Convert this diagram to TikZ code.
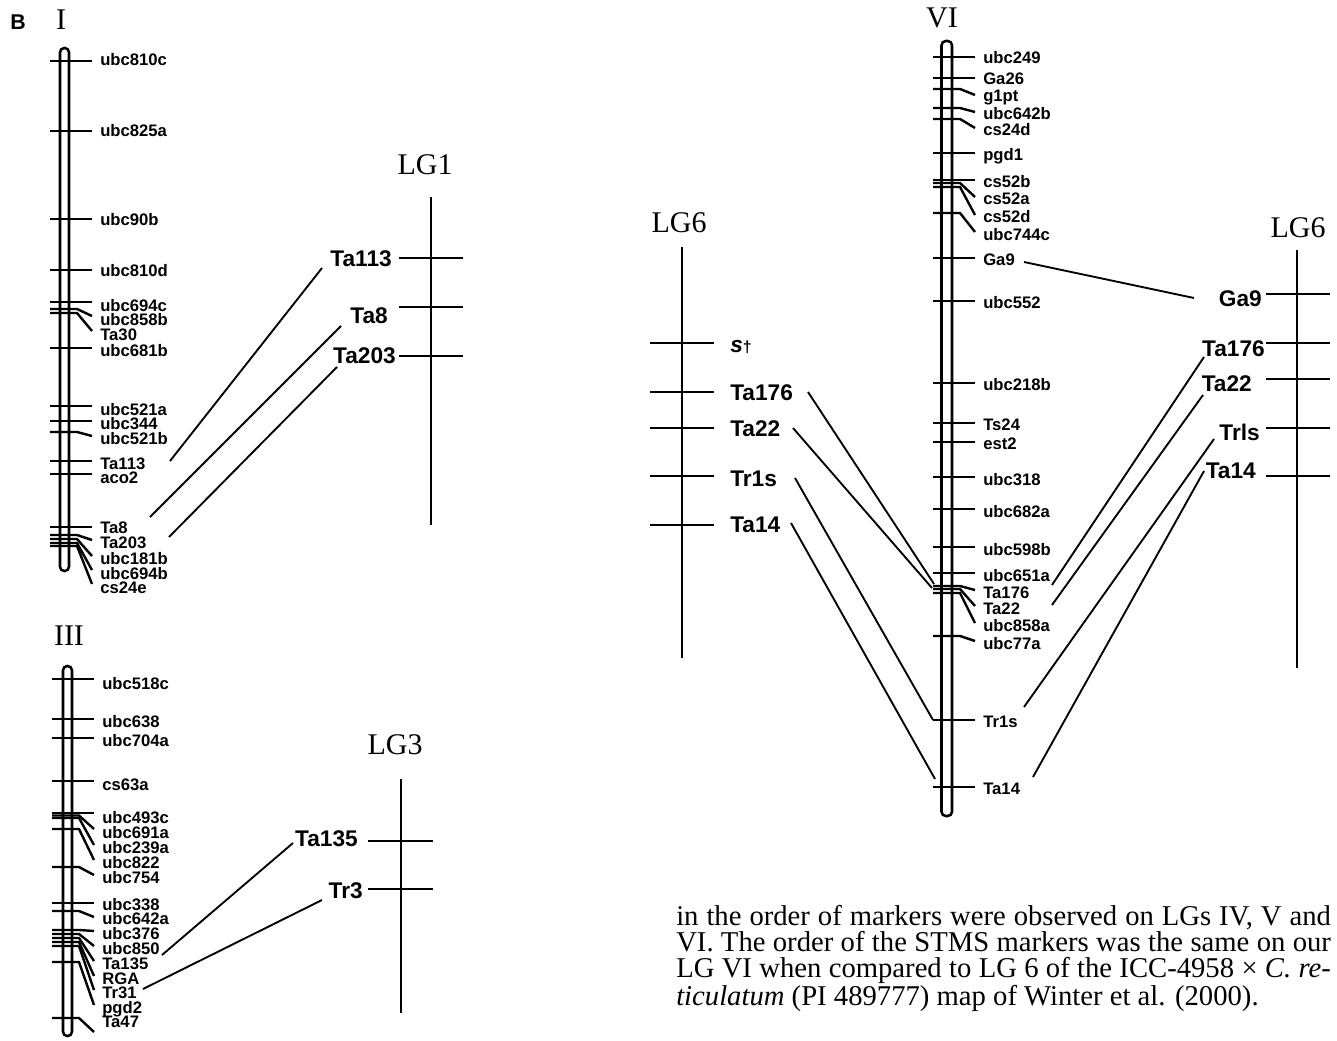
\documentclass[tikz,border=0pt]{standalone}
\usepackage{fontspec}
\setmainfont{Liberation Serif}
\newfontfamily\labfont{Liberation Sans}

\begin{document}
\begin{tikzpicture}[x=0.75pt, y=-0.75pt,
  chrom/.style={line width=1.9pt, rounded corners=3.2pt},
  tickln/.style={line width=1.8pt},
  lgln/.style={line width=1.5pt},
  link/.style={line width=1.4pt},
  smlab/.style={font=\labfont\bfseries\fontsize{12.5}{12.5}\selectfont, inner sep=0pt, anchor=base west},
  biglab/.style={font=\labfont\bfseries\fontsize{17}{17}\selectfont, inner sep=0pt},
  roman/.style={font=\fontsize{22.5}{22.5}\selectfont, inner sep=0pt}]
  \useasboundingbox (0,0) rectangle (1337,1041);

  \node[font=\labfont\bfseries\fontsize{16}{16}\selectfont, inner sep=0pt] (panel) at (18,22) {B};

  % chromosome I
  \node[roman] (I) at (61,20) {I};
  \draw[chrom] (60,48) rectangle (69,571);
  \foreach \ty/\ey/\ly/\txt in {61/61/61/ubc810c, 131/131/132/ubc825a, 219/219/220/ubc90b,
      270/270/271/ubc810d, 302/302/306/ubc694c, 309/316/320/ubc858b, 313/331/335/Ta30,
      348/348/351/ubc681b, 406/406/410/ubc521a, 421/421/424/ubc344, 432/436/439/ubc521b,
      461/461/464/Ta113, 474/474/478/aco2, 527/527/528/Ta8, 535/540/543/Ta203,
      539/556/559/ubc181b, 543/570/574/ubc694b, 546/584/588/cs24e} {
    \draw[tickln] (50,\ty) -- (77,\ty) -- (92,\ey);
    \node[smlab] (I-\txt) at (100,\ly+5) {\txt};
  }

  % LG1
  \node[roman] (LG1) at (425,165) {LG1};
  \draw[lgln] (431,197) -- (431,525);
  \foreach \y in {258,307,356} \draw[lgln] (399,\y) -- (463,\y);
  \node[biglab, anchor=base east] (L1-Ta113) at (392,266) {Ta113};
  \node[biglab, anchor=base east] (L1-Ta8) at (388,323) {Ta8};
  \node[biglab, anchor=base east] (L1-Ta203) at (396,363) {Ta203};
  \coordinate (a1) at (322,268); \coordinate (a2) at (170,461);
  \coordinate (b1) at (341,326); \coordinate (b2) at (150,517);
  \coordinate (c1) at (337,367); \coordinate (c2) at (169,537);
  \draw[link] (a1) -- (a2);
  \draw[link] (b1) -- (b2);
  \draw[link] (c1) -- (c2);

  % chromosome III
  \node[roman] (III) at (69,636) {III};
  \draw[chrom] (63,666) rectangle (72,1036);
  \foreach \ty/\ey/\ly/\txt in {679/679/684/ubc518c, 719/719/722/ubc638, 738/738/741/ubc704a,
      781/781/785/cs63a, 813/813/818/ubc493c, 815.5/829/833/ubc691a, 818/845/848/ubc239a,
      829/860/863/ubc822, 867/875/878/ubc754, 903/903/905/ubc338, 911/917/919/ubc642a,
      930/931/934/ubc376, 934/946/949/ubc850, 938/961/964/Ta135, 942/976/979/RGA,
      946/990/993/Tr31, 962/1005/1008/pgd2, 1018/1032/1022/Ta47} {
    \draw[tickln] (52,\ty) -- (79,\ty) -- (94,\ey);
    \node[smlab] (III-\txt) at (102,\ly+5) {\txt};
  }

  % LG3
  \node[roman] (LG3) at (395,745) {LG3};
  \draw[lgln] (401,779) -- (401,1013);
  \foreach \y in {841,889} \draw[lgln] (368,\y) -- (433,\y);
  \node[biglab, anchor=base east] (L3-Ta135) at (358,846) {Ta135};
  \node[biglab, anchor=base east] (L3-Tr3) at (363,898) {Tr3};
  \coordinate (d1) at (293,843); \coordinate (d2) at (162,955);
  \coordinate (e1) at (322,900); \coordinate (e2) at (143,989);
  \draw[link] (d1) -- (d2);
  \draw[link] (e1) -- (e2);

  % chromosome VI
  \node[roman] (VI) at (942,18) {VI};
  \draw[chrom] (941.5,41) rectangle (952,816);
  \foreach \ty/\ey/\ly/\txt in {57/57/59/ubc249, 78/78/80/Ga26, 89/95/97/g1pt,
      108/112/115/ubc642b, 119/128/131/cs24d, 153/153/156/pgd1, 180/180/183/cs52b,
      183/197/200/cs52a, 187/215/218/cs52d, 213/232/235/ubc744c, 258/258/260/Ga9,
      301/301/303/ubc552, 383/383/385/ubc218b, 423/423/425/Ts24, 442/442/444/est2,
      477/477/480/ubc318, 509/509/512/ubc682a, 547/547/550/ubc598b, 573/573/576/ubc651a,
      586/590/593/Ta176, 589/606/609/Ta22, 593/623/626/ubc858a, 636/641/644/ubc77a,
      720/720/722/Tr1s, 787/787/789/Ta14} {
    \draw[tickln] (933,\ty) -- (960,\ty) -- (975,\ey);
    \node[smlab] (VI-\txt) at (983,\ly+5) {\txt};
  }

  % LG6, left
  \node[roman] (LG6a) at (679,223) {LG6};
  \draw[lgln] (682,247) -- (682,658);
  \foreach \y in {343,392,428,476,525} \draw[lgln] (650,\y) -- (714,\y);
  \node[biglab, anchor=base west] (La-s) at (730,352) {\textit{s}{\fontsize{12}{12}\selectfont\textdagger}};
  \node[biglab, anchor=base west] (La-Ta176) at (730,400) {Ta176};
  \node[biglab, anchor=base west] (La-Ta22) at (730,436) {Ta22};
  \node[biglab, anchor=base west] (La-Tr1s) at (730,486) {Tr1s};
  \node[biglab, anchor=base west] (La-Ta14) at (730,532) {Ta14};
  \coordinate (f1) at (808,392); \coordinate (f2) at (934,584);
  \coordinate (g1) at (793,428); \coordinate (g2) at (932,588);
  \coordinate (h1) at (795,478); \coordinate (h2) at (933,720);
  \coordinate (k1) at (791,523); \coordinate (k2) at (935,779);
  \draw[link] (f1) -- (f2);
  \draw[link] (g1) -- (g2);
  \draw[link] (h1) -- (h2);
  \draw[link] (k1) -- (k2);

  % LG6, right
  \node[roman] (LG6b) at (1298,228) {LG6};
  \draw[lgln] (1297,250) -- (1297,668);
  \foreach \y in {294,343,379,428,476} \draw[lgln] (1266,\y) -- (1330,\y);
  \node[biglab, anchor=base east] (Lb-Ga9) at (1262,306) {Ga9};
  \node[biglab, anchor=base east] (Lb-Ta176) at (1265,356) {Ta176};
  \node[biglab, anchor=base east] (Lb-Ta22) at (1252,391) {Ta22};
  \node[biglab, anchor=base east] (Lb-Trls) at (1260,440) {Trls};
  \node[biglab, anchor=base east] (Lb-Ta14) at (1256,478) {Ta14};
  \coordinate (m1) at (1024,262); \coordinate (m2) at (1194,298);
  \coordinate (n1) at (1204,357); \coordinate (n2) at (1052,585);
  \coordinate (p1) at (1203,395); \coordinate (p2) at (1052,605);
  \coordinate (q1) at (1214,439); \coordinate (q2) at (1024,707);
  \coordinate (r1) at (1204,471); \coordinate (r2) at (1033,777);
  \draw[link] (m1) -- (m2);
  \draw[link] (n1) -- (n2);
  \draw[link] (p1) -- (p2);
  \draw[link] (q1) -- (q2);
  \draw[link] (r1) -- (r2);

  % text below
  \node[anchor=north west, inner sep=0pt, text width=491pt, align=justify,
        font=\fontsize{21.5}{19.5}\selectfont] (para) at (676,905)
    {\hyphenpenalty=10000 in the order of markers were observed on LGs IV, V and\linebreak
     VI. The order of the STMS markers was the same on our\linebreak
     LG VI when compared to LG 6 of the ICC-4958 × \textit{C. re-}\linebreak
     \textit{ticulatum} (PI 489777) map of Winter et al. (2000).};
\end{tikzpicture}
\end{document}
